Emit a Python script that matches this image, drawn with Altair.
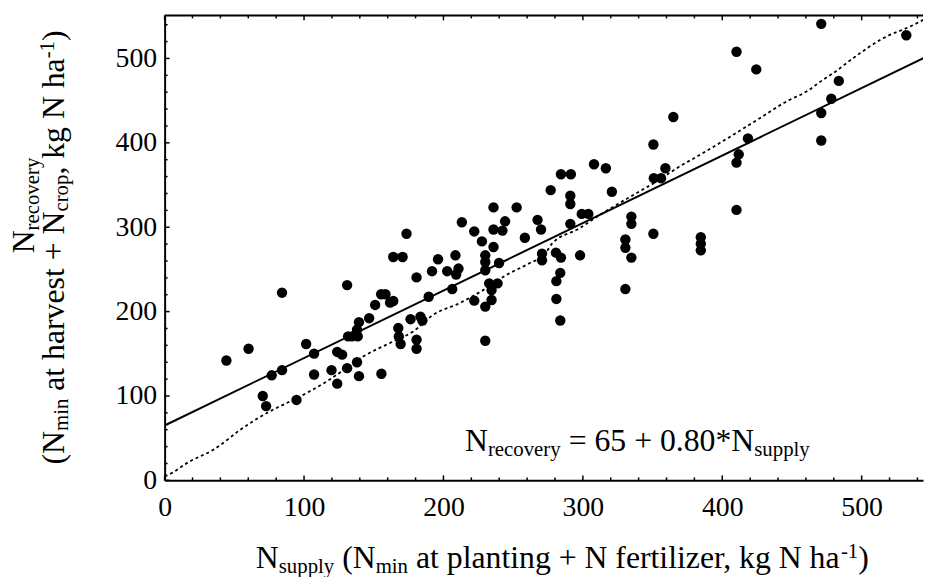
import altair as alt
import pandas as pd

# ---------------- data ----------------
n_supply = [44.3, 60.2, 70.4, 72.8, 76.8, 84.2, 84.2, 94.6, 101.5, 107.2,
            107.2, 119.7, 123.8, 123.8, 127.3, 130.9, 130.9, 131.6, 134.4, 138.5,
            138.0, 139.4, 138.0, 139.4, 146.7, 151.0, 155.3, 155.5, 158.4, 161.7,
            164.0, 164.0, 170.7, 173.5, 167.6, 168.0, 169.3, 176.4, 180.7, 180.7,
            180.7, 183.5, 184.9, 189.4, 191.8, 196.1, 202.7, 206.3, 208.6, 209.1,
            210.8, 213.2, 222.1, 222.1, 227.6, 230.0, 230.0, 230.0, 230.0, 230.0,
            232.8, 234.5, 234.5, 235.9, 235.9, 235.9, 238.8, 239.9, 242.3, 244.2,
            252.5, 258.4, 267.5, 270.0, 270.7, 270.7, 276.9, 291.0, 291.0, 320.8,
            299.2, 303.9, 291.0, 280.7, 284.3, 298.0, 283.8, 281.0, 281.0, 283.8,
            334.8, 334.8, 330.5, 330.5, 334.8, 350.6, 330.5, 384.6, 384.6, 384.6,
            410.2, 471.0, 532.0, 410.2, 424.4, 483.6, 478.2, 471.0, 471.0, 418.4,
            411.8, 410.2, 364.9, 350.6, 359.2, 350.9, 356.1, 308.0, 316.5, 284.3,
            291.4]
n_recovery = [142.0, 156.0, 100.0, 88.0, 124.5, 130.6, 222.4, 95.3, 161.6, 150.2,
              125.5, 130.6, 114.6, 152.2, 149.0, 133.0, 231.4, 170.6, 170.6, 170.6,
              140.0, 123.5, 178.5, 187.5, 192.2, 207.9, 220.5, 126.3, 220.5, 210.6,
              212.6, 264.7, 264.7, 292.2, 180.5, 170.6, 161.6, 191.0, 240.5, 166.7,
              156.0, 194.1, 189.4, 217.6, 247.9, 262.0, 247.9, 226.7, 266.7, 244.0,
              251.0, 305.9, 295.0, 213.0, 283.2, 266.7, 258.8, 249.0, 205.9, 165.5,
              233.4, 225.5, 213.8, 323.5, 276.5, 297.3, 233.4, 257.6, 296.0, 307.0,
              323.5, 287.5, 308.7, 297.3, 268.7, 260.8, 344.0, 337.3, 327.5, 342.0,
              315.8, 315.8, 304.0, 269.9, 264.0, 266.7, 245.9, 236.1, 215.0, 189.4,
              312.6, 304.0, 285.5, 275.7, 264.0, 292.2, 226.7, 288.2, 280.5, 272.6,
              320.5, 541.0, 527.5, 507.9, 487.0, 473.4, 452.2, 435.3, 402.8, 405.2,
              386.4, 376.5, 430.6, 398.0, 369.9, 358.1, 358.1, 374.6, 369.9, 362.8,
              362.8]

# fitted line endpoints (N_recovery = 65 + 0.80*N_supply)
fit_x = [0, 550]
fit_y = [65, 505]

# dotted curve
dot_x = [0, 1.7, 17.1, 36.0, 55.0, 74.0, 88.0, 102.4, 116.6, 123.8, 142.7, 164.0,
         178.3, 192.5, 211.5, 230.5, 244.7, 261.3, 273.0, 277.9, 296.8, 313.4,
         337.0, 353.7, 368.0, 384.5, 408.2, 427.2, 446.0, 460.4, 472.2, 479.4,
         493.6, 515.0, 536.3, 545.5]
dot_y = [5.0, 5.9, 21.6, 37.3, 60.8, 80.5, 92.0, 104.0, 117.6, 125.5, 147.0, 164.7,
         176.5, 196.0, 210.0, 227.5, 243.0, 257.0, 268.7, 280.5, 298.0, 315.8,
         339.0, 355.0, 370.6, 386.3, 409.9, 429.5, 449.0, 460.8, 474.6, 482.4,
         500.0, 523.6, 539.0, 546.9]

x_major = [0, 100, 200, 300, 400, 500]
y_major = [0, 100, 200, 300, 400, 500]
x_minor = [v for v in range(20, 544, 20) if v % 100 != 0]
y_minor = [v for v in range(20, 551, 20) if v % 100 != 0]

# ---------------- layout ----------------
W, H = 765, 469
XMAX, YMAX = 544, 551
FONT = "Liberation Serif"
S, s = 32, 21
SP = 0.25  # width of a space in em (Times metrics)

xs = alt.Scale(domain=[0, XMAX], nice=False, zero=False)
ys = alt.Scale(domain=[0, YMAX], nice=False, zero=False)

pts = pd.DataFrame({"x": n_supply, "y": n_recovery})
fit = pd.DataFrame({"x": fit_x, "y": fit_y})
dot = pd.DataFrame({"x": dot_x, "y": dot_y})

x_axis = alt.Axis(values=x_major, title=None, ticks=False, tickSize=0, labelPadding=13,
                  labelFlush=False, labelOverlap=False, grid=False)
y_axis = alt.Axis(values=y_major, title=None, ticks=False, tickSize=0, labelPadding=8,
                  labelOverlap=False, grid=False)

scatter = alt.Chart(pts).mark_circle(size=110, color="black", opacity=1).encode(
    x=alt.X("x:Q", scale=xs, axis=x_axis),
    y=alt.Y("y:Q", scale=ys, axis=y_axis),
)
fit_line = alt.Chart(fit).mark_line(color="black", strokeWidth=2, clip=True).encode(
    x=alt.X("x:Q", scale=xs), y=alt.Y("y:Q", scale=ys))
dot_line = alt.Chart(dot).mark_line(color="black", strokeWidth=1.8, strokeDash=[3, 3],
                                    clip=True, interpolate="monotone").encode(
    x=alt.X("x:Q", scale=xs), y=alt.Y("y:Q", scale=ys))


def tick_layer(vals, orient, length):
    df = pd.DataFrame({"v": vals})
    base = alt.Chart(df).mark_rule(color="black", strokeWidth=1.5)
    if orient == "bottom":
        return base.encode(x=alt.X("v:Q", scale=xs), y=alt.value(H), y2=alt.value(H - length))
    if orient == "top":
        return base.encode(x=alt.X("v:Q", scale=xs), y=alt.value(0), y2=alt.value(length))
    return base.encode(y=alt.Y("v:Q", scale=ys), x=alt.value(0), x2=alt.value(length))


ticks = [
    tick_layer(x_major, "bottom", 5), tick_layer(x_minor, "bottom", 3),
    tick_layer(x_major, "top", 5), tick_layer(x_minor, "top", 3),
    tick_layer(y_major, "left", 5), tick_layer(y_minor, "left", 3),
]

top_border = alt.Chart(pd.DataFrame({"a": [0]})).mark_rule(color="black", strokeWidth=2).encode(
    x=alt.value(0), x2=alt.value(W), y=alt.value(0))


def txt(text, x, y, size, angle=0):
    props = dict(text=text, align="left", baseline="alphabetic", font=FONT,
                 fontSize=size, color="black")
    if angle:
        props["angle"] = angle
    return alt.Chart(pd.DataFrame({"a": [0]})).mark_text(**props).encode(
        x=alt.value(x), y=alt.value(y))


def run(segments, start, horizontal, base, angle=0):
    """segments: (text, size, baseline shift, advance width in em). Leading spaces
    are turned into an offset so that nothing depends on whitespace handling."""
    out = []
    pos = start
    for t, size, shift, w in segments:
        lead = len(t) - len(t.lstrip(" "))
        body = t.lstrip(" ")
        p = pos + lead * SP * size if horizontal else pos - lead * SP * size
        if horizontal:
            out.append(txt(body, p, base + shift, size))
            pos += w * size
        else:
            out.append(txt(body, base + shift, p, size, angle))
            pos -= w * size
    return out


texts = []
# x axis title
texts += run([("N", S, 0, 0.722), ("supply", s, 5, 2.667), (" (N", S, 0, 1.305),
              ("min", s, 5, 1.556),
              (" at planting + N fertilizer, kg N ha", S, 0, 13.645),
              ("-1", s, -10, 0.833), (")", S, 0, 0.333)], 92, True, 557)

# equation
texts += run([("N", S, 0, 0.722), ("recovery", s, 5, 3.498),
              (" = 65 + 0.80*N", S, 0, 6.1), ("supply", s, 5, 2.667)], 303, True, 439)

# y title line 2 (rotated)
texts += run([("(N", S, 0, 1.055), ("min", s, 5, 1.556),
              (" at harvest + N", S, 0, 5.896), ("crop", s, 5, 1.777),
              (", kg N ha", S, 0, 3.666), ("-1", s, -10, 0.833), (")", S, 0, 0.333)],
             453, False, -102, 270)

# y title line 1
texts += run([("N", S, 0, 0.722), ("recovery", s, 5, 3.498)], 240, False, -132, 270)

chart = alt.layer(dot_line, fit_line, scatter, top_border, *ticks, *texts).properties(
    width=W, height=H,
    padding={"left": 158, "top": 5, "right": 2, "bottom": 95},
    autosize=alt.AutoSizeParams(type="none"),
).configure_view(stroke=None).configure_axis(
    labelFont=FONT, labelFontSize=28, labelColor="black",
    domainColor="black", domainWidth=2,
)

chart.save("out.html", embed_options={"renderer": "svg", "actions": False})
